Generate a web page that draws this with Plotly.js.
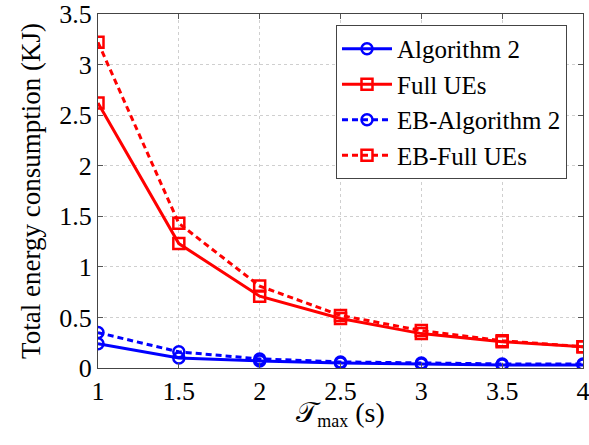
<!DOCTYPE html>
<html><head><meta charset="utf-8">
<script src="https://cdn.plot.ly/plotly-3.0.1.min.js"></script>
<style>
body{margin:0;background:#fff;font-family:'Liberation Serif'}
#wrap{position:relative;width:589px;height:445px}
#c{width:589px;height:445px}
#c svg text{font-family:'Liberation Serif' !important}
#xt{position:absolute;left:98px;width:485px;top:396px;text-align:center;font-family:'Liberation Serif';font-size:28px;line-height:34px;color:#000}
#xt sub{font-size:18px;vertical-align:-5px}
</style>
</head><body><div id="wrap"><div id="c"></div><div id="xt"></div></div>
<script>
var tmax = [1, 1.5, 2, 2.5, 3, 3.5, 4];
var alg2 = [0.24, 0.10, 0.07, 0.05, 0.04, 0.03, 0.03];
var fullUEs = [2.62, 1.23, 0.71, 0.49, 0.34, 0.26, 0.21];
var ebAlg2 = [0.35, 0.16, 0.09, 0.06, 0.05, 0.04, 0.04];
var ebFullUEs = [3.22, 1.43, 0.81, 0.52, 0.37, 0.27, 0.21];
var names = ['Algorithm 2', 'Full UEs', 'EB-Algorithm 2', 'EB-Full UEs'];
var tickText = ['1', '1.5', '2', '2.5', '3', '3.5', '4'];
var xTitle = '𝒯<sub>max</sub> (s)';
var yTitle = 'Total energy consumption (KJ)';

document.getElementById('xt').innerHTML = xTitle;

function tr(y, name, color, dash, sym) {
  return {x: tmax, y: y, name: name, mode: 'lines+markers', type: 'scatter',
    line: {color: color, width: 3, dash: dash},
    marker: {symbol: sym, size: 11, color: color, line: {color: color, width: 2.5}}};
}
var fam = 'Liberation Serif';
function mkFont(size) { return {family: fam, size: size, color: '#000'}; }
function mkAxis(extra) {
  return Object.assign({showline: true, mirror: 'ticks', linecolor: '#444', linewidth: 1,
    ticks: 'inside', ticklen: 5, tickcolor: '#555', showgrid: true,
    gridcolor: '#cfcfcf', griddash: 'dot', gridwidth: 1, zeroline: false,
    tickfont: mkFont(26), ticklabeloverflow: 'allow'}, extra);
}
function draw() {
  var data = [
    tr(alg2, names[0], '#0000ff', 'solid', 'circle-open'),
    tr(fullUEs, names[1], '#ff0000', 'solid', 'square-open'),
    tr(ebAlg2, names[2], '#0000ff', '6px,4px', 'circle-open'),
    tr(ebFullUEs, names[3], '#ff0000', '6px,4px', 'square-open')
  ];
  var layout = {
    width: 589, height: 445,
    margin: {l: 98, r: 6, t: 14, b: 77},
    paper_bgcolor: 'rgba(0,0,0,0)', plot_bgcolor: '#fff',
    xaxis: mkAxis({range: [1, 4], tickvals: tmax, ticktext: tickText}),
    yaxis: mkAxis({range: [0, 3.5], dtick: 0.5,
      title: {text: yTitle, font: mkFont(27), standoff: 10}}),
    legend: {x: 0.967, y: 0.969, xanchor: 'right', yanchor: 'top', bgcolor: '#fff',
      bordercolor: '#444', borderwidth: 1, font: mkFont(25),
      tracegroupgap: 0, itemwidth: 50},
    showlegend: true
  };
  Plotly.newPlot('c', data, layout, {displayModeBar: false, staticPlot: true});
}
var done = false;
function go() { if (!done) { done = true; draw(); } }
if (document.fonts && document.fonts.load) {
  document.fonts.load('26px "Liberation Serif"').then(go, go);
  setTimeout(go, 800);
} else { go(); }
</script></body></html>
